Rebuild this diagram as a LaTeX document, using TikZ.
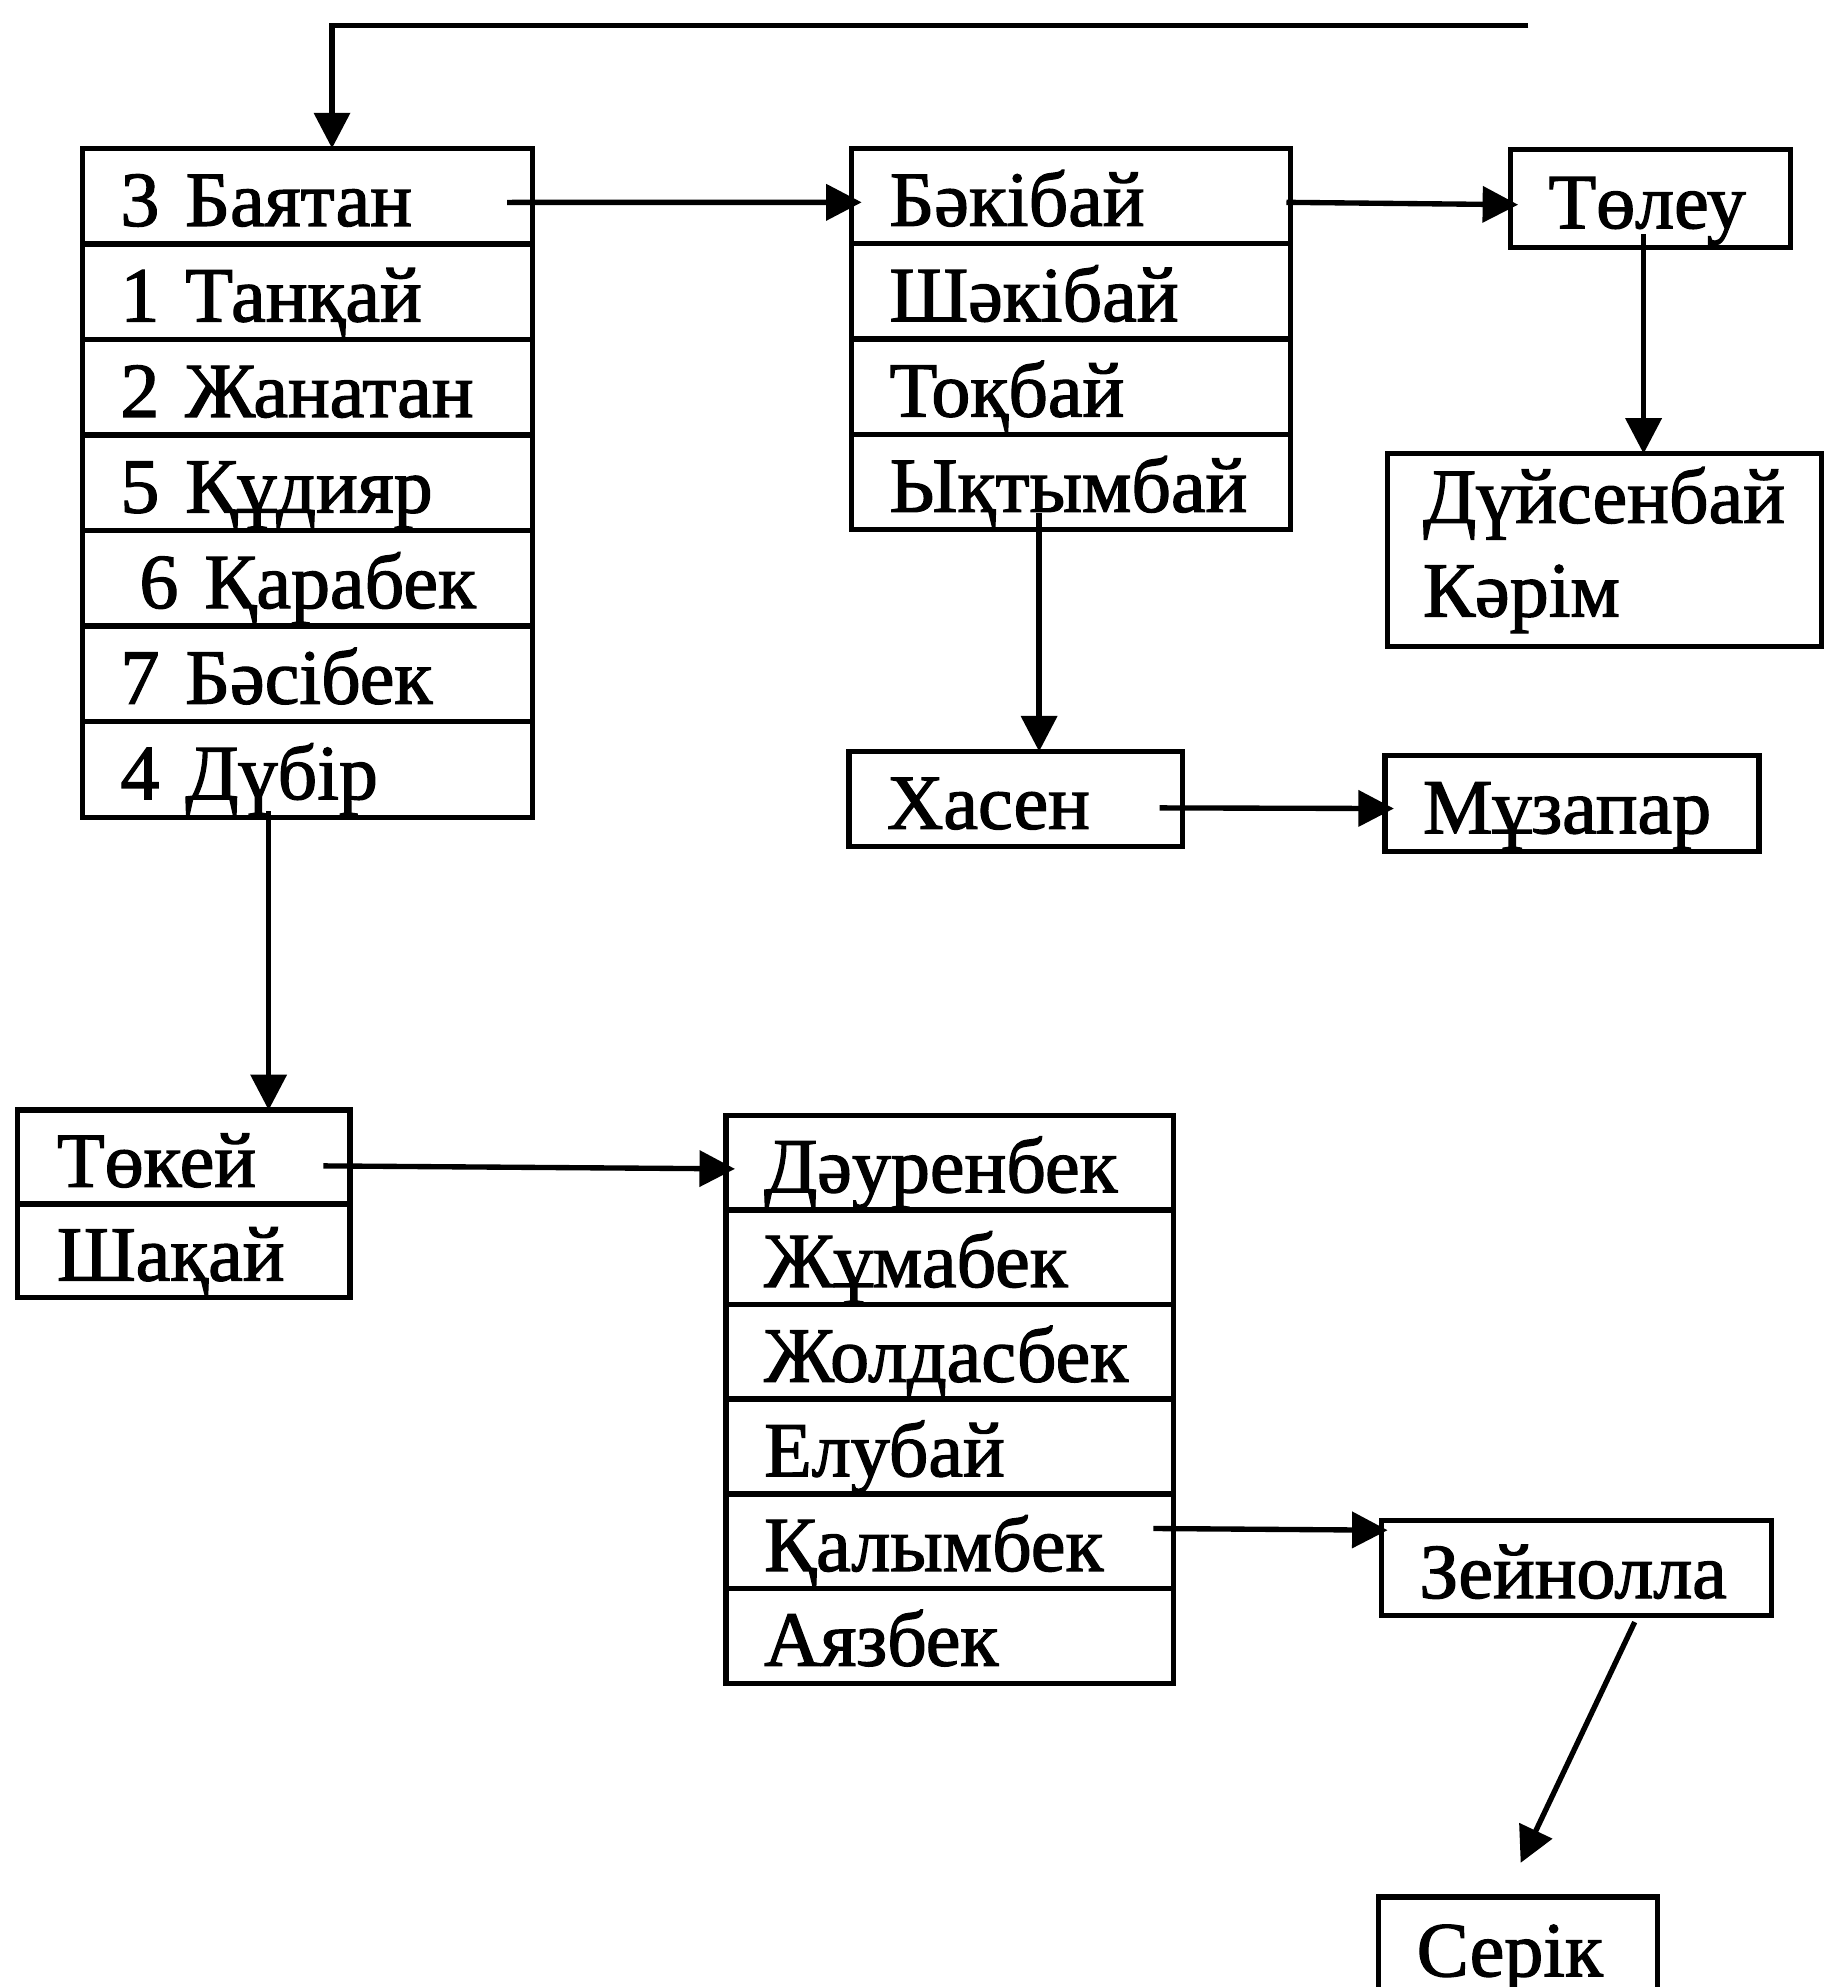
\documentclass[tikz,border=0pt]{standalone}
\usepackage{fontspec}
\setmainfont{Liberation Serif}
\newfontfamily\diagfont{Liberation Serif}[FakeBold=1.6, WordSpace=0.75]
\usetikzlibrary{arrows.meta,calc}
\tikzset{
  box/.style={draw, line width=1.2pt, anchor=north west, inner xsep=0.3cm, inner ysep=0pt, outer sep=0pt, align=left},
  cell/.style={box, text height=0.55cm, text depth=0.08cm},
  arr/.style={line width=1.2pt, -{Triangle[length=0.28cm,width=0.28cm]}}
}
\begin{document}
\begin{tikzpicture}[x=0.01cm, y=-0.01cm, font=\diagfont\fontsize{17.5pt}{20pt}\selectfont]
\clip (0,0) rectangle (1441,1568);
\fill[white] (0,0) rectangle (1441,1568);
% left list
\node[cell, text width=2.95cm, minimum height=0.754cm] (a1) at (65,117) {3 Баятан};
\node[cell, text width=2.95cm, minimum height=0.754cm] (a2) at (65,192.4) {1 Танқай};
\node[cell, text width=2.95cm, minimum height=0.754cm] (a3) at (65,267.8) {2 Жанатан};
\node[cell, text width=2.95cm, minimum height=0.754cm] (a4) at (65,343.2) {5 Құдияр};
\node[cell, text width=2.95cm, minimum height=0.754cm] (a5) at (65,418.6) {\hspace*{0.15cm}6 Қарабек};
\node[cell, text width=2.95cm, minimum height=0.754cm] (a6) at (65,494) {7 Бәсібек};
\node[cell, text width=2.95cm, minimum height=0.754cm] (a7) at (65,569.4) {4 Дүбір};
% second list
\node[cell, text width=2.86cm, minimum height=0.7525cm] (b1) at (672,117) {Бәкібай};
\node[cell, text width=2.86cm, minimum height=0.7525cm] (b2) at (672,192.25) {Шәкібай};
\node[cell, text width=2.86cm, minimum height=0.7525cm] (b3) at (672,267.5) {Тоқбай};
\node[cell, text width=2.86cm, minimum height=0.7525cm] (b4) at (672,342.75) {Ықтымбай};
% Toleu
\node[cell, text width=1.61cm, minimum height=0.77cm] (t) at (1192,118) {Төлеу};
% Duisenbai / Karim
\node[box, text width=2.86cm, minimum height=1.52cm, inner xsep=0.28cm, font=\diagfont\fontsize{17.5pt}{21pt}\selectfont] (dk) at (1095,358) {Дүйсенбай\\Кәрім};
% Hasen, Muzapar
\node[cell, text width=2.03cm, minimum height=0.75cm] (h) at (670,593) {Хасен};
\node[cell, text width=2.35cm, minimum height=0.76cm, inner xsep=0.3cm] (m) at (1093,596) {Мұзапар};
% Tokei list
\node[cell, text width=2.0cm, minimum height=0.74cm, inner xsep=0.31cm] (c1) at (14,876) {Төкей};
\node[cell, text width=2.0cm, minimum height=0.74cm, inner xsep=0.31cm] (c2) at (14,950) {Шақай};
% Daurenbek list
\node[cell, text width=2.93cm, minimum height=0.747cm] (d1) at (573,880) {Дәуренбек};
\node[cell, text width=2.93cm, minimum height=0.747cm] (d2) at (573,954.7) {Жұмабек};
\node[cell, text width=2.93cm, minimum height=0.747cm] (d3) at (573,1029.4) {Жолдасбек};
\node[cell, text width=2.93cm, minimum height=0.747cm] (d4) at (573,1104.1) {Елубай};
\node[cell, text width=2.93cm, minimum height=0.747cm] (d5) at (573,1178.8) {Қалымбек};
\node[cell, text width=2.93cm, minimum height=0.747cm] (d6) at (573,1253.5) {Аязбек};
% Zeinolla, Serik
\node[cell, text width=2.48cm, minimum height=0.75cm] (z) at (1090,1200) {Зейнолла};
\node[cell, text width=1.6cm, minimum height=0.78cm, inner xsep=0.3cm] (s) at (1088,1497) {Серік};
% connectors
\coordinate (topend) at (1206,20);
\coordinate (topcorner) at (262,20);
\draw[arr] (topend) -- (topcorner) -- (topcorner |- a1.north);
\draw[arr] ($(a1.east)+(-20,5)$) -- ($(b1.west)+(8,5)$);
\draw[arr] ($(b1.east)+(-3,5)$) -- ($(t.west)+(6,5)$);
\coordinate (tdown) at (1297,185);
\draw[arr] (tdown) -- (tdown |- dk.north);
\coordinate (bdown) at (820,405);
\draw[arr] (bdown) -- (bdown |- h.north);
\draw[arr] ($(h.east)+(-18,7)$) -- ($(m.west)+(7,4)$);
\coordinate (adown) at (212,640);
\draw[arr] (adown) -- (adown |- c1.north);
\draw[arr] ($(c1.east)+(-21,7)$) -- ($(d1.west)+(7,5)$);
\draw[arr] ($(d5.east)+(-16,-10)$) -- ($(z.west)+(5,-30)$);
\coordinate (zdown) at (1290,1280);
\coordinate (sup1) at (1200,1470);
\draw[arr] (zdown) -- (sup1);
\end{tikzpicture}
\end{document}
